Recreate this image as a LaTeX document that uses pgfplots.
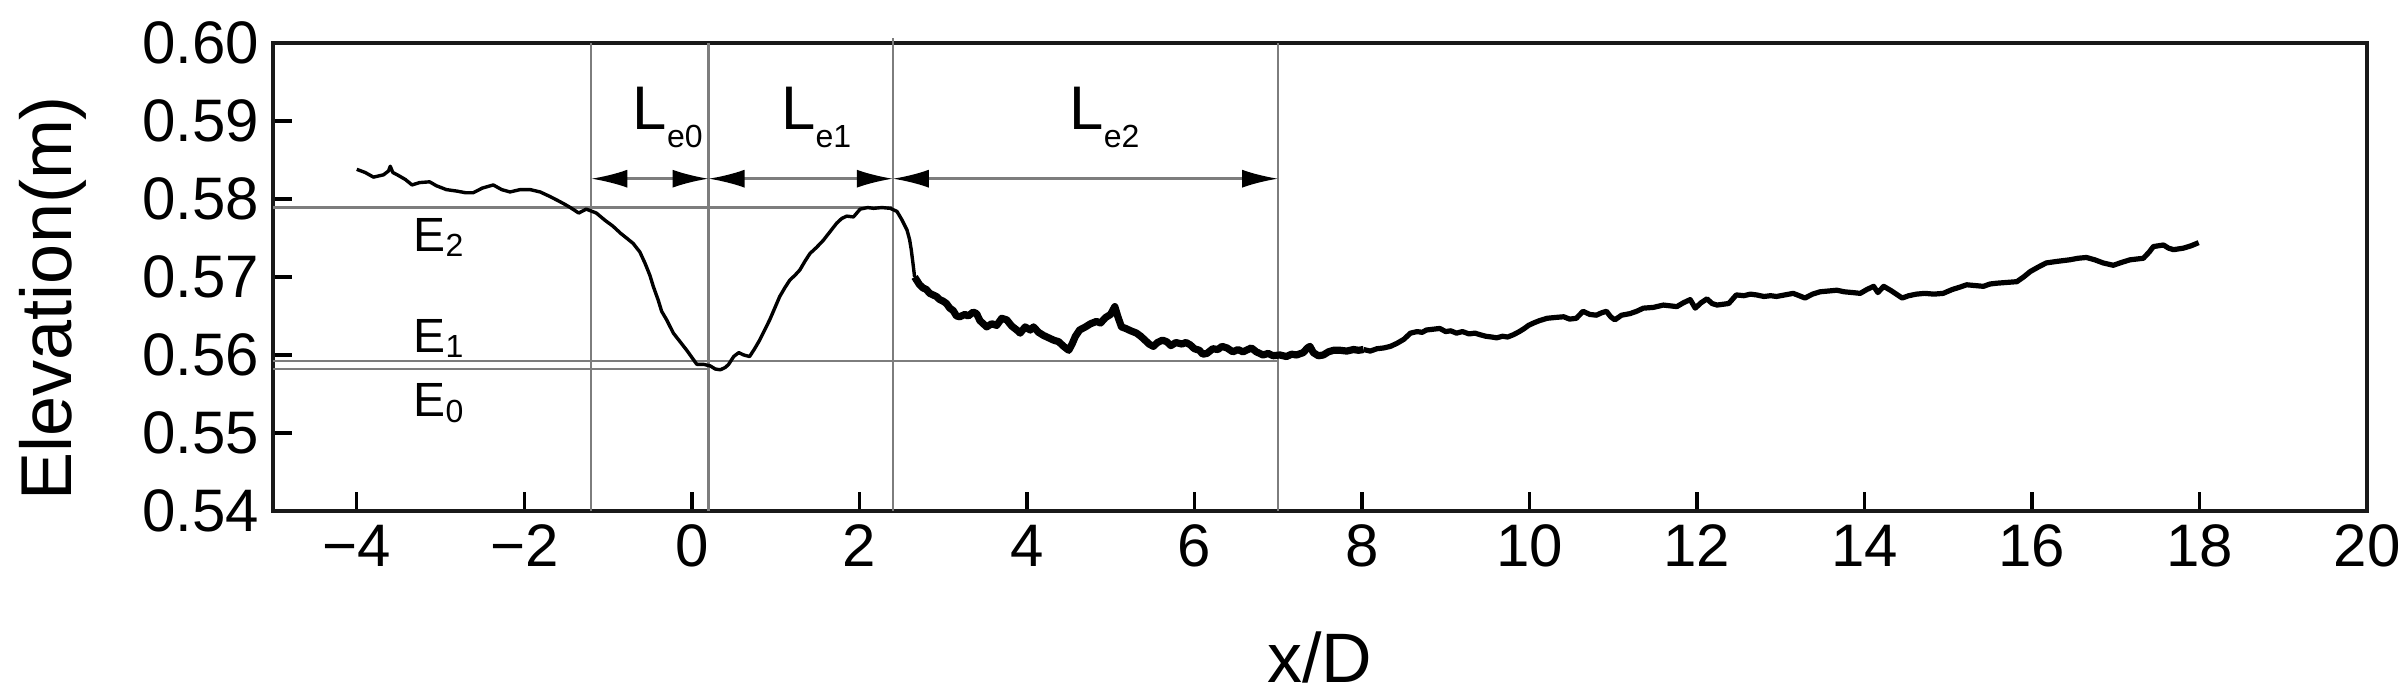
\documentclass[border=0pt]{standalone}
\usepackage{fontspec}
\setmainfont{Liberation Sans}
\usepackage{graphicx}
\usepackage{pgfplots}
\pgfplotsset{compat=1.18}
\usetikzlibrary{arrows.meta}
\definecolor{refgray}{RGB}{125,125,125}

\pgfplotstableread{
x y
-4.00 0.5838
-3.90 0.5834
-3.80 0.5828
-3.72 0.5830
-3.68 0.5831
-3.62 0.5836
-3.60 0.5842
-3.57 0.5834
-3.50 0.5830
-3.42 0.5825
-3.34 0.5818
-3.25 0.5821
-3.13 0.5822
-3.05 0.5817
-2.93 0.5812
-2.80 0.5810
-2.70 0.5808
-2.61 0.5808
-2.50 0.5814
-2.37 0.5818
-2.27 0.5812
-2.17 0.5809
-2.05 0.5812
-1.93 0.5812
-1.81 0.5809
-1.69 0.5803
-1.60 0.5798
-1.53 0.5794
-1.45 0.5789
-1.35 0.5782
-1.26 0.5787
-1.14 0.5782
-1.04 0.5773
-0.94 0.5765
-0.85 0.5756
-0.78 0.5750
-0.70 0.5743
-0.62 0.5732
-0.56 0.5718
-0.50 0.5702
-0.46 0.5688
-0.40 0.5670
-0.36 0.5656
-0.30 0.5645
-0.22 0.5628
-0.14 0.5617
-0.06 0.5606
0.00 0.5597
0.06 0.5588
0.14 0.5588
0.22 0.5586
0.28 0.5582
0.34 0.5581
0.40 0.5584
0.44 0.5588
0.50 0.5598
0.56 0.5603
0.62 0.5600
0.69 0.5598
0.75 0.5608
0.81 0.5619
0.87 0.5632
0.93 0.5645
0.99 0.5660
1.05 0.5675
1.11 0.5686
1.17 0.5696
1.23 0.5702
1.29 0.5709
1.35 0.5720
1.41 0.5730
1.49 0.5738
1.57 0.5747
1.65 0.5758
1.73 0.5769
1.79 0.5775
1.85 0.5778
1.93 0.5777
2.01 0.5787
2.10 0.5789
2.17 0.5788
2.27 0.5789
2.37 0.5788
2.45 0.5784
2.51 0.5773
2.57 0.5760
2.60 0.5748
2.62 0.5735
2.64 0.5718
2.66 0.5700
}\upstream

\pgfplotstableread{
x y
2.66 0.5700
2.72 0.5690
2.76 0.5686
2.80 0.5684
2.84 0.5679
2.88 0.5677
2.92 0.5675
2.96 0.5671
3.00 0.5669
3.04 0.5666
3.08 0.5660
3.12 0.5657
3.16 0.5650
3.20 0.5649
3.26 0.5652
3.30 0.5650
3.36 0.5655
3.40 0.5653
3.44 0.5644
3.48 0.5640
3.52 0.5636
3.58 0.5640
3.64 0.5638
3.70 0.5647
3.76 0.5645
3.82 0.5637
3.88 0.5632
3.92 0.5628
3.98 0.5636
4.04 0.5632
4.08 0.5636
4.14 0.5629
4.20 0.5625
4.26 0.5622
4.32 0.5619
4.38 0.5617
4.44 0.5611
4.50 0.5606
4.54 0.5614
4.58 0.5624
4.63 0.5632
4.70 0.5636
4.76 0.5640
4.83 0.5643
4.88 0.5641
4.94 0.5648
5.00 0.5652
5.05 0.5662
5.09 0.5648
5.13 0.5636
5.18 0.5634
5.24 0.5631
5.31 0.5628
5.36 0.5624
5.42 0.5618
5.46 0.5614
5.51 0.5611
5.56 0.5616
5.62 0.5619
5.67 0.5617
5.72 0.5612
5.78 0.5616
5.85 0.5614
5.90 0.5616
5.95 0.5613
6.00 0.5608
6.06 0.5606
6.10 0.5601
6.15 0.5602
6.22 0.5608
6.28 0.5607
6.33 0.5611
6.39 0.5609
6.46 0.5604
6.52 0.5607
6.58 0.5604
6.62 0.5606
6.68 0.5609
6.74 0.5604
6.82 0.5600
6.88 0.5602
6.94 0.5599
7.02 0.5600
7.10 0.5598
7.16 0.5601
7.22 0.5600
7.30 0.5603
7.35 0.5609
7.38 0.5611
7.42 0.5603
7.48 0.5599
7.54 0.5600
7.60 0.5604
7.66 0.5606
7.74 0.5606
7.82 0.5605
7.90 0.5607
7.96 0.5606
8.02 0.5607
}\noisy

\pgfplotstableread{
x y
8.02 0.5607
8.10 0.5605
8.18 0.5608
8.26 0.5609
8.34 0.5611
8.42 0.5615
8.50 0.5620
8.58 0.5628
8.66 0.5630
8.72 0.5629
8.77 0.5632
8.85 0.5633
8.93 0.5634
9.00 0.5630
9.06 0.5631
9.13 0.5628
9.20 0.5630
9.28 0.5627
9.35 0.5628
9.41 0.5626
9.48 0.5624
9.55 0.5623
9.61 0.5622
9.68 0.5624
9.74 0.5623
9.81 0.5626
9.88 0.5630
9.94 0.5634
9.99 0.5638
10.05 0.5641
10.12 0.5644
10.21 0.5647
10.30 0.5648
10.41 0.5649
10.48 0.5646
10.56 0.5647
10.64 0.5656
10.72 0.5652
10.80 0.5651
10.86 0.5654
10.92 0.5656
10.97 0.5649
11.02 0.5645
11.10 0.5651
11.20 0.5653
11.28 0.5656
11.36 0.5660
11.48 0.5661
11.60 0.5664
11.68 0.5663
11.76 0.5662
11.84 0.5667
11.92 0.5671
11.98 0.5660
12.05 0.5667
12.12 0.5672
12.18 0.5666
12.24 0.5664
12.31 0.5665
12.38 0.5666
12.47 0.5677
12.56 0.5676
12.64 0.5678
12.71 0.5677
12.80 0.5675
12.88 0.5676
12.95 0.5675
13.05 0.5677
13.15 0.5679
13.22 0.5676
13.29 0.5673
13.38 0.5678
13.47 0.5681
13.57 0.5682
13.67 0.5683
13.76 0.5681
13.86 0.5680
13.95 0.5679
14.03 0.5684
14.11 0.5688
14.16 0.5680
14.23 0.5688
14.31 0.5683
14.38 0.5678
14.45 0.5673
14.53 0.5676
14.62 0.5678
14.72 0.5679
14.83 0.5678
14.94 0.5679
15.05 0.5684
15.14 0.5687
15.22 0.5690
15.32 0.5689
15.42 0.5688
15.50 0.5691
15.58 0.5692
15.70 0.5693
15.82 0.5694
15.90 0.5700
15.98 0.5707
16.08 0.5713
16.17 0.5718
16.30 0.5720
16.45 0.5722
16.55 0.5724
16.65 0.5725
16.75 0.5722
16.85 0.5718
16.97 0.5715
17.08 0.5719
17.17 0.5722
17.25 0.5723
17.33 0.5724
17.40 0.5732
17.45 0.5739
17.57 0.5741
17.63 0.5737
17.69 0.5735
17.75 0.5736
17.81 0.5737
17.90 0.5740
17.99 0.5744
}\downstream

\begin{document}
\begin{tikzpicture}
\begin{axis}[
  scale only axis,
  width=523.5pt, height=117pt,
  xmin=-5, xmax=20, ymin=0.54, ymax=0.60,
  xtick={-4,-2,0,2,4,6,8,10,12,14,16,18,20},
  xticklabels={−4,−2,0,2,4,6,8,10,12,14,16,18,20},
  ytick={0.54,0.55,0.56,0.57,0.58,0.59,0.60},
  yticklabels={0.54,0.55,0.56,0.57,0.58,0.59,0.60},
  tick pos=left, tick align=inside,
  major tick length=4.8pt,
  tick style={black, line width=0.85pt},
  axis line style={black!90, line width=0.9pt},
  tick label style={font=\fontsize{15}{18}\selectfont},
  xlabel={x/D}, ylabel={Elevation(m)},
  xlabel style={font=\fontsize{17.5}{20}\selectfont, at={(axis description cs:0.5,-0.3675)}, anchor=base, inner sep=0pt},
  ylabel style={font=\fontsize{18}{21}\selectfont, at={(axis description cs:-0.0961,0.455)}, anchor=base, inner sep=0pt},
  clip=false,
]
% reference lines
\draw[refgray, line width=0.6pt] (axis cs:-1.2,0.54) -- (axis cs:-1.2,0.60);
\draw[refgray, line width=0.6pt] (axis cs:0.2,0.54) -- (axis cs:0.2,0.60);
\draw[refgray, line width=0.6pt] (axis cs:2.4,0.54) -- (axis cs:2.4,0.6007);
\draw[refgray, line width=0.6pt] (axis cs:7.0,0.54) -- (axis cs:7.0,0.60);
\draw[refgray, line width=0.6pt] (axis cs:-5,0.5789) -- (axis cs:2.4,0.5789);
\draw[refgray, line width=0.6pt] (axis cs:-5,0.5592) -- (axis cs:7.0,0.5592);
\draw[refgray, line width=0.6pt] (axis cs:-5,0.5582) -- (axis cs:0.2,0.5582);
% dimension arrows
\draw[refgray, line width=0.6pt, {Latex[length=9pt,width=4.5pt,black]}-{Latex[length=9pt,width=4.5pt,black]}] (axis cs:-1.2,0.5826) -- (axis cs:0.2,0.5826);
\draw[refgray, line width=0.6pt, {Latex[length=9pt,width=4.5pt,black]}-{Latex[length=9pt,width=4.5pt,black]}] (axis cs:0.2,0.5826) -- (axis cs:2.4,0.5826);
\draw[refgray, line width=0.6pt, {Latex[length=9pt,width=4.5pt,black]}-{Latex[length=9pt,width=4.5pt,black]}] (axis cs:2.4,0.5826) -- (axis cs:7.0,0.5826);
% labels
\node[anchor=base west, inner sep=0pt, font=\fontsize{15.4}{18}\selectfont] at (axis cs:-0.714,0.58885) {L\raisebox{-4.5pt}{\fontsize{8}{9}\selectfont e0}};
\node[anchor=base west, inner sep=0pt, font=\fontsize{15.4}{18}\selectfont] at (axis cs:1.06,0.58885) {L\raisebox{-4.5pt}{\fontsize{8}{9}\selectfont e1}};
\node[anchor=base west, inner sep=0pt, font=\fontsize{15.4}{18}\selectfont] at (axis cs:4.50,0.58885) {L\raisebox{-4.5pt}{\fontsize{8}{9}\selectfont e2}};
\node[anchor=base west, inner sep=0pt, font=\fontsize{12}{14}\selectfont] at (axis cs:-3.33,0.57324) {E\raisebox{-1.3pt}{\fontsize{8}{9}\selectfont 2}};
\node[anchor=base west, inner sep=0pt, font=\fontsize{12}{14}\selectfont] at (axis cs:-3.33,0.56038) {E\raisebox{-1.3pt}{\fontsize{8}{9}\selectfont 1}};
\node[anchor=base west, inner sep=0pt, font=\fontsize{12}{14}\selectfont] at (axis cs:-3.33,0.55205) {E\raisebox{-1.3pt}{\fontsize{8}{9}\selectfont 0}};
% data
\addplot[black, line width=0.85pt, line join=round] table[x=x,y=y] {\upstream};
\addplot[black, line width=1.8pt, line join=round] table[x=x,y=y] {\noisy};
\addplot[black, line width=1.3pt, line join=round] table[x=x,y=y] {\downstream};
\end{axis}
\pgfresetboundingbox
\path[use as bounding box] ([shift={(-68.25pt,-46.75pt)}]current axis.south west) rectangle ([shift={(10.25pt,10.75pt)}]current axis.north east);
\end{tikzpicture}
\end{document}
